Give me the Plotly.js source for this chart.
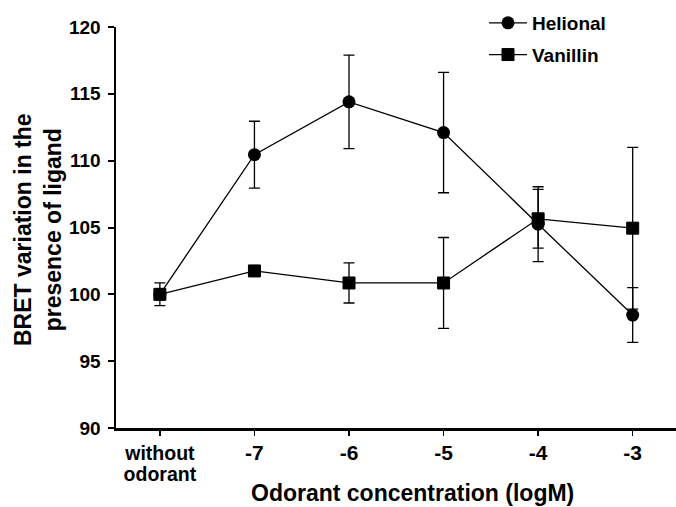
<!DOCTYPE html>
<html>
<head>
<meta charset="utf-8">
<script src="https://cdn.plot.ly/plotly-3.0.1.min.js"></script>
<style>html,body{margin:0;padding:0;background:#fff;}#chart{width:676px;height:507px;}</style>
</head>
<body>
<div id="chart"></div>
<script>
// Category positions and labels
const categories = [0, 1, 2, 3, 4, 5];
const tickLabels = ["without<br>odorant", "-7", "-6", "-5", "-4", "-3"];

// Helional series (mean, error)
const helionalValues = [100.0, 110.45, 114.4, 112.1, 105.25, 98.45];
const helionalErrors = [0.0, 2.5, 3.5, 4.5, 2.8, 2.05];

// Vanillin series (mean, error)
const vanillinValues = [100.0, 101.75, 100.85, 100.85, 105.65, 104.95];
const vanillinErrors = [0.85, 0.3, 1.5, 3.4, 2.2, 6.05];

const yTickVals = [90, 95, 100, 105, 110, 115, 120];

const W = 676, H = 507;
const M = {l: 116, r: 0, t: 27, b: 79};
const pw = W - M.l - M.r, ph = H - M.t - M.b;
const px = v => (v - M.l) / pw;
const py = v => (H - M.b - v) / ph;

// styled tick text: first label smaller, numbers larger; base font small for tight line spacing
const styledTicks = tickLabels.map((t, i) => i === 0
  ? t.split('<br>').map(s => '<span style="font-size:19.5px">' + s + '</span>').join('<br>')
  : '<span style="font-size:21px">' + t + '</span>');

const common = {
  mode: 'lines+markers',
  line: {color: '#000', width: 1.3},
  cliponaxis: false
};

const helional = Object.assign({}, common, {
  name: 'Helional', legendgroup: 'a',
  x: categories, y: helionalValues,
  marker: {symbol: 'circle', size: 13, color: '#000'},
  error_y: {type: 'data', array: helionalErrors, visible: true, color: '#000', thickness: 1.3, width: 5.5}
});
const vanillin = Object.assign({}, common, {
  name: 'Vanillin', legendgroup: 'b',
  x: categories, y: vanillinValues,
  marker: {symbol: 'square', size: 12, color: '#000', line: {color: '#000', width: 1}},
  error_y: {type: 'data', array: vanillinErrors, visible: true, color: '#000', thickness: 1.3, width: 5.5}
});

const layout = {
  width: W, height: H,
  margin: M,
  paper_bgcolor: '#fff', plot_bgcolor: '#fff',
  font: {family: '"Liberation Sans", Arial, sans-serif', size: 19, color: '#000', weight: 'bold'},
  showlegend: true,
  legend: {
    x: px(484), xanchor: 'left', y: py(4), yanchor: 'top',
    bgcolor: 'rgba(0,0,0,0)', borderwidth: 0,
    font: {size: 19, weight: 'bold'},
    itemwidth: 38,
    traceorder: 'grouped', tracegroupgap: 4
  },
  xaxis: {
    range: [-0.464, 5.458],
    tickmode: 'array', tickvals: categories, ticktext: styledTicks,
    showline: true, linecolor: '#000', linewidth: 2.5,
    ticks: 'outside', ticklen: 5, tickwidth: 1.5, tickcolor: '#000',
    showgrid: false, zeroline: false,
    tickfont: {size: 16, weight: 'bold'},
    ticklabelstandoff: 5,
    fixedrange: true
  },
  yaxis: {
    range: [90, 120],
    tickmode: 'array', tickvals: yTickVals,
    showline: true, linecolor: '#000', linewidth: 2.5,
    ticks: 'outside', ticklen: 6, tickwidth: 2, tickcolor: '#000',
    showgrid: false, zeroline: false,
    tickfont: {size: 19, weight: 'bold'},
    ticklabelstandoff: 3,
    fixedrange: true
  },
  annotations: [
    {
      text: 'Odorant concentration (logM)',
      xref: 'paper', yref: 'paper', x: px(412), y: py(493),
      xanchor: 'center', yanchor: 'middle', showarrow: false,
      font: {size: 23, weight: 'bold'}
    },
    {
      text: 'BRET variation in the<br>presence of ligand',
      xref: 'paper', yref: 'paper', x: px(38), y: py(230),
      xanchor: 'center', yanchor: 'middle', showarrow: false, textangle: -90,
      font: {size: 23, weight: 'bold'}
    }
  ]
};

Plotly.newPlot('chart', [helional, vanillin], layout, {staticPlot: true, displayModeBar: false});
</script>
</body>
</html>
